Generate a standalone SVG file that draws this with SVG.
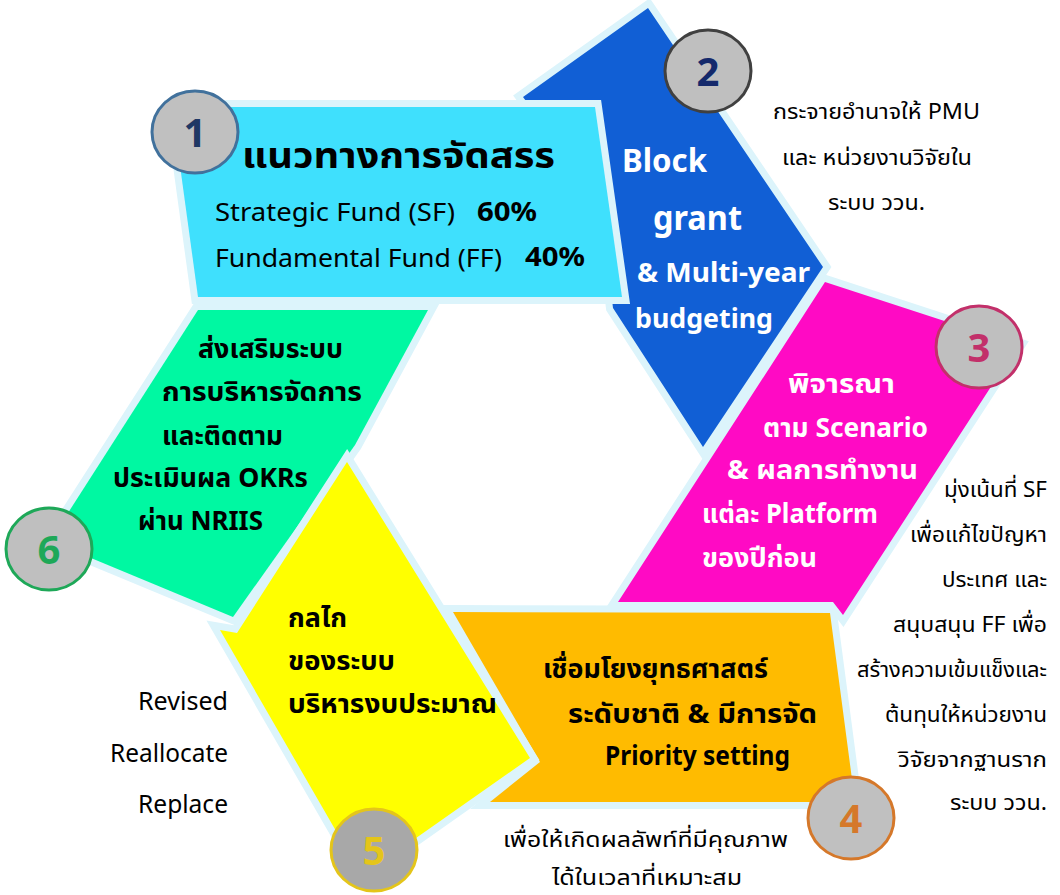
<svg xmlns="http://www.w3.org/2000/svg" width="1060" height="895" viewBox="0 0 1060 895">
<style>
.sh{stroke:#dcf4fb;stroke-width:14;stroke-linejoin:miter;paint-order:stroke}
text{font-family:"Noto Sans","Noto Sans Thai",Tahoma,sans-serif}
.b{font-weight:bold;font-size:26px;fill:#000}
.w{font-weight:bold;font-size:27px;fill:#fff}
.r{font-size:22px;fill:#000}
.num{font-size:40px;font-weight:bold;text-anchor:middle}
.c{stroke-width:3}
</style>
<rect width="1060" height="895" fill="#fff"/>
<g id="connectors"/>
<g id="node-2">
<polygon class="sh" fill="#115fd5" points="648,8 823,267 703,447 613,308 600,200 523,97"/>
<text class="w" x="622" y="172" font-size="32" textLength="85" lengthAdjust="spacingAndGlyphs" style="font-size:32px">Block</text>
<text class="w" x="653" y="230" style="font-size:34px" textLength="89" lengthAdjust="spacingAndGlyphs">grant</text>
<text class="w" x="637" y="282" style="font-size:26px" textLength="173" lengthAdjust="spacingAndGlyphs">&amp; Multi-year</text>
<text class="w" x="635" y="328" style="font-size:26px" textLength="138" lengthAdjust="spacingAndGlyphs">budgeting</text>
<ellipse class="c" cx="708" cy="71" rx="43" ry="41" fill="#bfbfbf" stroke="#404040"/>
<text class="num" x="708" y="86" fill="#14296b">2</text>
</g>
<g id="node-1">
<polygon class="sh" fill="#3fe0fd" points="172,107 595,107 622,297 198,297"/>
<text class="b" x="242" y="168" style="font-size:36px" textLength="313" lengthAdjust="spacingAndGlyphs">แนวทางการจัดสรร</text>
<text x="215" y="221" style="font-size:25px" textLength="240" lengthAdjust="spacingAndGlyphs">Strategic Fund (SF)</text>
<text class="b" x="477" y="221" style="font-size:27px" textLength="60" lengthAdjust="spacingAndGlyphs">60%</text>
<text x="215" y="267" style="font-size:25px" textLength="287" lengthAdjust="spacingAndGlyphs">Fundamental Fund (FF)</text>
<text class="b" x="525" y="266" style="font-size:27px" textLength="60" lengthAdjust="spacingAndGlyphs">40%</text>
<ellipse class="c" cx="195" cy="132" rx="43" ry="41" fill="#c0c0c0" stroke="#41719c"/>
<text class="num" x="195" y="147" fill="#1f3864">1</text>
</g>
<g id="node-6">
<polygon class="sh" fill="#00f8a2" points="198,310 428,310 355,445 233,617 50,541"/>
<text class="b" x="198" y="358" textLength="145" lengthAdjust="spacingAndGlyphs">ส่งเสริมระบบ</text>
<text class="b" x="162" y="401" textLength="200" lengthAdjust="spacingAndGlyphs">การบริหารจัดการ</text>
<text class="b" x="162" y="445" textLength="121" lengthAdjust="spacingAndGlyphs">และติดตาม</text>
<text class="b" x="113" y="487" textLength="195" lengthAdjust="spacingAndGlyphs">ประเมินผล OKRs</text>
<text class="b" x="138" y="530" textLength="125" lengthAdjust="spacingAndGlyphs">ผ่าน NRIIS</text>
<ellipse class="c" cx="49" cy="549" rx="43" ry="41" fill="#bfbfbf" stroke="#1ea858"/>
<text class="num" x="49" y="564" fill="#1ea858">6</text>
</g>
<g id="node-4">
<polygon class="sh" fill="#ffbb00" points="453,612 830,613 855,802 490,802 540,762"/>
<text class="b" x="543" y="678" textLength="225" lengthAdjust="spacingAndGlyphs">เชื่อมโยงยุทธศาสตร์</text>
<text class="b" x="568" y="723" textLength="249" lengthAdjust="spacingAndGlyphs">ระดับชาติ &amp; มีการจัด</text>
<text class="b" x="605" y="765" textLength="185" lengthAdjust="spacingAndGlyphs">Priority setting</text>
<ellipse class="c" cx="851" cy="818" rx="43" ry="41" fill="#c0c0c0" stroke="#d5782a"/>
<text class="num" x="851" y="833" fill="#d5782a">4</text>
</g>
<g id="node-3">
<polygon class="sh" fill="#ff0ac4" points="825,282 1018,345 843,615 833,602 618,602"/>
<text class="w" x="788" y="393" textLength="107" lengthAdjust="spacingAndGlyphs">พิจารณา</text>
<text class="w" x="763" y="437" textLength="165" lengthAdjust="spacingAndGlyphs">ตาม Scenario</text>
<text class="w" x="727" y="479" textLength="191" lengthAdjust="spacingAndGlyphs">&amp; ผลการทำงาน</text>
<text class="w" x="702" y="523" textLength="176" lengthAdjust="spacingAndGlyphs">แต่ละ Platform</text>
<text class="w" x="702" y="567" textLength="115" lengthAdjust="spacingAndGlyphs">ของปีก่อน</text>
<ellipse class="c" cx="979" cy="347" rx="43" ry="41" fill="#bfbfbf" stroke="#c2306a"/>
<text class="num" x="979" y="362" fill="#c2306a">3</text>
</g>
<g id="node-5">
<polygon class="sh" fill="#ffff00" points="347,462 530,758 362,876 220,630 237,633"/>
<text class="b" x="288" y="627" textLength="59" lengthAdjust="spacingAndGlyphs">กลไก</text>
<text class="b" x="288" y="670" textLength="107" lengthAdjust="spacingAndGlyphs">ของระบบ</text>
<text class="b" x="288" y="713" textLength="209" lengthAdjust="spacingAndGlyphs">บริหารงบประมาณ</text>
<ellipse class="c" cx="374" cy="850" rx="43" ry="41" fill="#a8a8a8" stroke="#e4c51a"/>
<text class="num" x="374" y="865" fill="#e4c51a">5</text>
</g>
<g id="note-2">
<text class="r" x="773" y="119" textLength="207" lengthAdjust="spacingAndGlyphs">กระจายอำนาจให้ PMU</text>
<text class="r" x="782" y="165" textLength="190" lengthAdjust="spacingAndGlyphs">และ หน่วยงานวิจัยใน</text>
<text class="r" x="828" y="210" textLength="97" lengthAdjust="spacingAndGlyphs">ระบบ ววน.</text>
</g>
<g id="note-3" text-anchor="end">
<text class="r" x="1047" y="497" textLength="103" lengthAdjust="spacingAndGlyphs">มุ่งเน้นที่ SF</text>
<text class="r" x="1047" y="542" textLength="137" lengthAdjust="spacingAndGlyphs">เพื่อแก้ไขปัญหา</text>
<text class="r" x="1047" y="587" textLength="105" lengthAdjust="spacingAndGlyphs">ประเทศ และ</text>
<text class="r" x="1047" y="632" textLength="154" lengthAdjust="spacingAndGlyphs">สนุบสนุน FF เพื่อ</text>
<text class="r" x="1047" y="677" textLength="190" lengthAdjust="spacingAndGlyphs">สร้างความเข้มแข็งและ</text>
<text class="r" x="1047" y="722" textLength="162" lengthAdjust="spacingAndGlyphs">ต้นทุนให้หน่วยงาน</text>
<text class="r" x="1047" y="767" textLength="149" lengthAdjust="spacingAndGlyphs">วิจัยจากฐานราก</text>
<text class="r" x="1047" y="810" textLength="97" lengthAdjust="spacingAndGlyphs">ระบบ ววน.</text>
</g>
<g id="note-4">
<text class="r" x="503" y="847" textLength="285" lengthAdjust="spacingAndGlyphs">เพื่อให้เกิดผลลัพท์ที่มีคุณภาพ</text>
<text class="r" x="552" y="885" textLength="190" lengthAdjust="spacingAndGlyphs">ได้ในเวลาที่เหมาะสม</text>
</g>
<g id="note-5" text-anchor="end">
<text x="228" y="710" style="font-size:25px" textLength="90" lengthAdjust="spacingAndGlyphs">Revised</text>
<text x="228" y="762" style="font-size:25px" textLength="118" lengthAdjust="spacingAndGlyphs">Reallocate</text>
<text x="228" y="813" style="font-size:25px" textLength="90" lengthAdjust="spacingAndGlyphs">Replace</text>
</g>
</svg>
